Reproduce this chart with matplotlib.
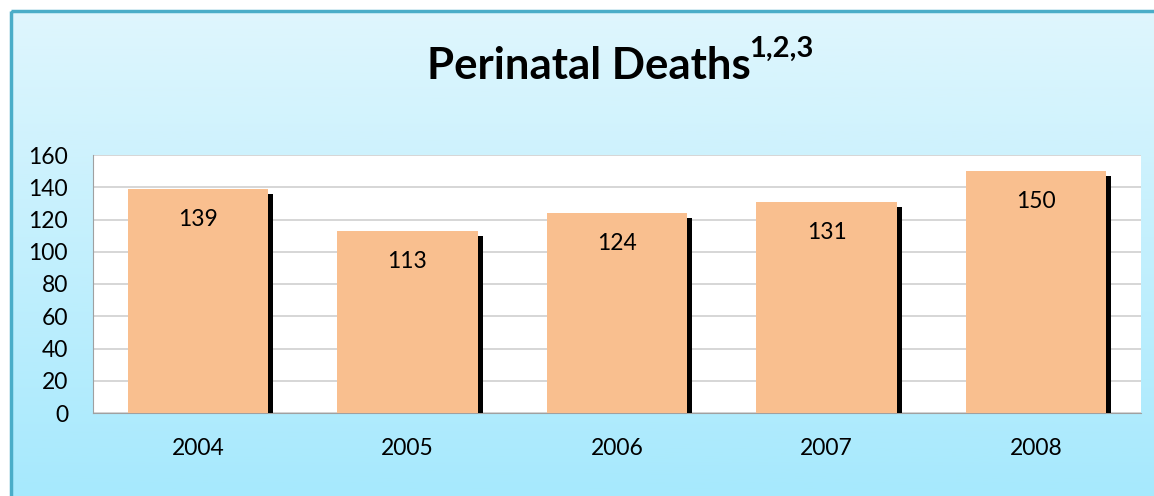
import numpy as np
import matplotlib.pyplot as plt
import matplotlib.patheffects as pe
from matplotlib.patches import Rectangle

years = ["2004", "2005", "2006", "2007", "2008"]
deaths = [139, 113, 124, 131, 150]
yticks = [0, 20, 40, 60, 80, 100, 120, 140, 160]

plt.rcParams['font.family'] = ['Lato', 'DejaVu Sans']

fig = plt.figure(figsize=(11.54, 4.96), dpi=100)

# background gradient panel
bg = fig.add_axes([0, 0, 1, 1])
bg.set_xlim(0, 1154)
bg.set_ylim(496, 0)
bg.axis("off")
top = np.array([0xdf, 0xf6, 0xfd]) / 255
bot = np.array([0xa6, 0xe9, 0xfd]) / 255
t = np.linspace(0, 1, 256)[:, None]
grad = (top[None, :] * (1 - t) + bot[None, :] * t)[:, None, :]
bg.imshow(grad, extent=(11, 1160, 500, 11), aspect="auto", zorder=0)
bg.add_patch(Rectangle((11, 11), 1160, 500, fill=False, edgecolor="#4aadc8",
                       linewidth=2.5, zorder=1))

ax = fig.add_axes([93 / 1154, 83 / 496, 1048 / 1154, 258 / 496])
ax.set_facecolor("white")
x = np.arange(len(years))
bars = ax.bar(x, deaths, width=0.67, color="#f9bf8f", zorder=3,
              path_effects=[pe.SimplePatchShadow(offset=(3.6, -3.6),
                                                 shadow_rgbFace="black", alpha=1),
                            pe.Normal()])
ax.set_xlim(-0.5, len(years) - 0.5)
ax.set_ylim(0, 160)
ax.set_yticks(yticks)
ax.set_xticks(x)
ax.set_xticklabels(years)
ax.tick_params(axis="both", length=0, labelsize=16.5)
ax.tick_params(axis="x", pad=18)
ax.tick_params(axis="y", pad=18)
ax.grid(axis="y", color="#d0d0d0", linewidth=1.2, zorder=0)
ax.set_axisbelow(True)
for s in ["top", "right"]:
    ax.spines[s].set_visible(False)
ax.spines["left"].set_color("#a0a0a0")
ax.spines["bottom"].set_color("#a0a0a0")

for xi, v in zip(x, deaths):
    ax.annotate(str(v), (xi, v), xytext=(0, -22), textcoords="offset points",
                ha="center", va="center", fontsize=16.5, zorder=5)

title = bg.text(589, 66, "Perinatal Deaths", fontsize=31.5, fontweight="bold",
                ha="center", va="center")
fig.canvas.draw()
bg.annotate("1,2,3", xy=(1, 0.6), xycoords=title, xytext=(-1, 0),
            textcoords="offset points", fontsize=21, fontweight="bold",
            ha="left", va="bottom", annotation_clip=False)

fig.savefig("out.png", dpi=100)
